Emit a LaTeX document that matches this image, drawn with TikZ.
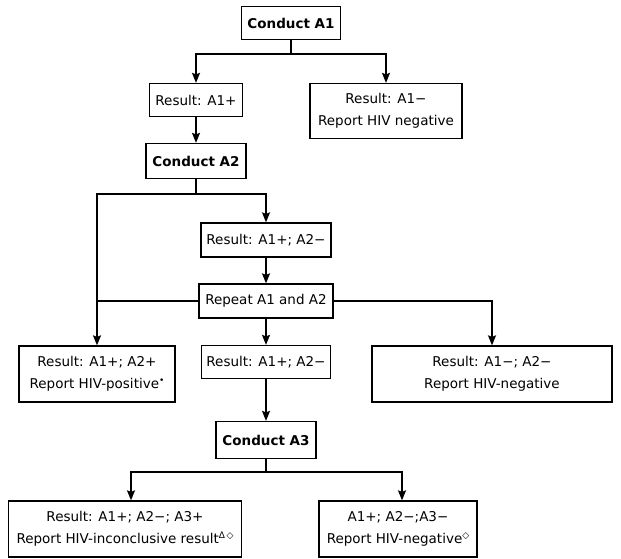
\documentclass[tikz,border=0pt]{standalone}
\usepackage{fontspec}
\setmainfont{DejaVu Sans}
\usetikzlibrary{arrows.meta,positioning}

\newcommand{\mrk}[1]{\raisebox{0.4em}{\fontsize{9}{9}\selectfont #1}}

\begin{document}
\begin{tikzpicture}[x=1pt,y=-1pt,>={Stealth[length=10pt,width=8pt,inset=1.5pt]},
                    line width=1.3pt,font=\fontsize{13.5}{22}\selectfont]
  \tikzstyle{box}=[draw,rectangle,align=center,inner sep=0pt]
  \useasboundingbox (0,0) rectangle (621,558);

  % first test
  \node[box,minimum width=99pt,minimum height=33pt]  (A1)   at (291,23)  {\bfseries Conduct A1};
  \node[box,minimum width=93pt,minimum height=33pt]  (pos1) at (196,100) {Result: A1+};
  \node[box,minimum width=152pt,minimum height=55pt] (neg1) at (386,111) {Result: A1−\\Report HIV negative};
  \node[box,minimum width=100pt,minimum height=35pt] (A2)   at (196,161) {\bfseries Conduct A2};

  % discordant, repeat both
  \node[box,minimum width=130pt,minimum height=34pt] (disc)   at (266,240) {Result: A1+; A2−};
  \node[box,minimum width=134pt,minimum height=34pt] (repeat) at (266,301) {Repeat A1 and A2};
  \node[box,minimum width=156pt,minimum height=56pt] (pospos) at (97,374)  {Result: A1+; A2+\\Report HIV-positive\mrk{•}};
  \node[box,minimum width=129pt,minimum height=33pt] (disc2)  at (266,362) {Result: A1+; A2−};
  \node[box,minimum width=240pt,minimum height=56pt] (negneg) at (492,374) {Result: A1−; A2−\\Report HIV-negative};

  % third test
  \node[box,minimum width=100pt,minimum height=37pt] (A3)    at (266,440) {\bfseries Conduct A3};
  \node[box,minimum width=233pt,minimum height=56pt] (incon) at (125,529) {Result: A1+; A2−; A3+\\Report HIV-inconclusive result\mrk{Δ\,◇}};
  \node[box,minimum width=158pt,minimum height=56pt] (neg3)  at (398,529) {A1+; A2−;A3−\\Report HIV-negative\mrk{◇}};

  \coordinate (s1) at (291,54);
  \coordinate (s2) at (196,194);
  \coordinate (s3) at (266,472);

  \draw (A1) -- (s1);
  \draw[->] (s1) -| (pos1);
  \draw[->] (s1) -| (neg1);
  \draw[->] (pos1) -- (A2);

  \draw (A2) -- (s2);
  \draw[->] (s2) -| (pospos);
  \draw[->] (s2) -| (disc);
  \draw[->] (disc) -- (repeat);
  \draw (repeat.west) -- (repeat.west -| pospos);
  \draw[->] (repeat.east) -| (negneg);
  \draw[->] (repeat) -- (disc2);
  \draw[->] (disc2) -- (A3);

  \draw (A3) -- (s3);
  \draw[->] (s3) -| ([xshift=6pt]incon.north);
  \draw[->] (s3) -| ([xshift=4pt]neg3.north);
\end{tikzpicture}
\end{document}
